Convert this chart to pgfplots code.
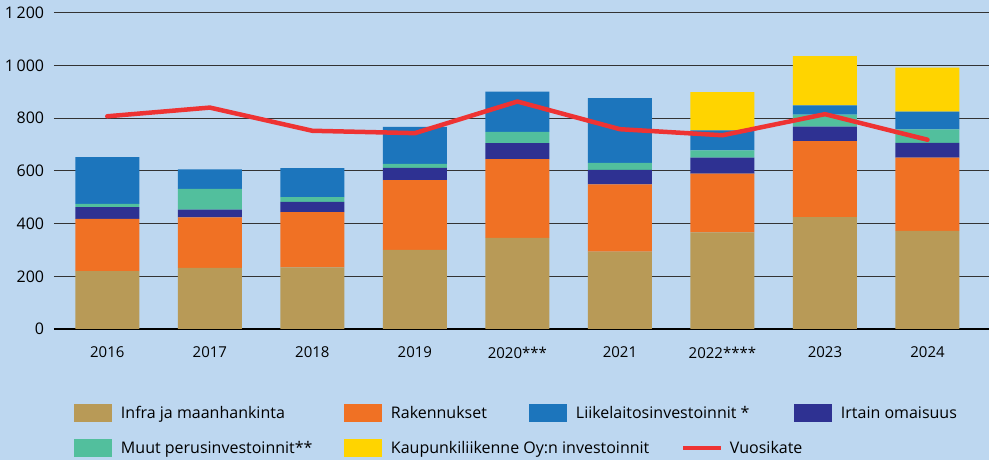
\documentclass[border=0pt]{standalone}
\usepackage{fontspec}
\setmainfont{Open Sans}
\usepackage{pgfplots}
\pgfplotsset{compat=1.18}
\definecolor{bg}{HTML}{BDD7F0}
\definecolor{cinfra}{HTML}{B89A57}
\definecolor{crak}{HTML}{F07124}
\definecolor{cliike}{HTML}{1C75BC}
\definecolor{cirtain}{HTML}{2E3192}
\definecolor{cmuut}{HTML}{52BF9D}
\definecolor{ckaup}{HTML}{FFD400}
\definecolor{cvuosi}{HTML}{EE3333}
\pgfplotsset{
  swatch/.style={legend image code/.code={\fill[##1, draw=none] (0pt,-9pt) rectangle (38pt,9pt);}},
  lineimg/.style={legend image code/.code={\fill[##1, draw=none] (0pt,-2.2pt) rectangle (38pt,2.2pt);}},
  legax/.style={at={(0pt,0pt)}, anchor=south west, width=989pt, height=460pt,
    scale only axis, hide axis, xmin=0, xmax=1, ymin=0, ymax=1,
    legend cell align=left,
    legend style={draw=none, fill=none, inner sep=0pt, outer sep=0pt,
      column sep=0pt, font=\fontsize{16}{19}\selectfont,
      nodes={inner sep=0pt}}},
}
\newcommand{\LE}[2]{\hspace*{9pt}\makebox[#1][l]{#2}}
\begin{document}
\begin{tikzpicture}[x=1pt,y=1pt]
\fill[bg] (0,0) rectangle (989,460);
\begin{axis}[
  at={(54pt,131pt)}, anchor=south west,
  width=935pt, height=316.3pt, scale only axis,
  xmin=-0.52, xmax=8.6, ymin=0, ymax=1200,
  ybar stacked, bar width=64pt,
  axis line style={draw=none}, major tick length=0pt,
  ymajorgrids, grid style={draw=black!80, line width=0.9pt},
  ytick={200,400,600,800,1000,1200},
  yticklabels={200,400,600,800,{1\,000},{1\,200}},
  extra y ticks={0}, extra y tick labels={0},
  extra y tick style={grid style={draw=black, line width=1.8pt}},
  xtick={0,1,2,3,4,5,6,7,8},
  xticklabels={2016,2017,2018,2019,2020***,2021,2022****,2023,2024},
  xticklabel style={font=\fontsize{15}{18}\selectfont, inner sep=0pt, anchor=north, yshift=-17.5pt},
  yticklabel style={font=\fontsize{16}{19}\selectfont, inner sep=0pt, xshift=-9.7pt},
  /pgf/number format/assume math mode=true,
]
\addplot[fill=cinfra, draw=none] coordinates {(0,220) (1,232) (2,234) (3,300) (4,346) (5,294) (6,367) (7,424) (8,372)};
\addplot[fill=crak, draw=none] coordinates {(0,198) (1,191) (2,209) (3,265) (4,298) (5,255) (6,222) (7,289) (8,278)};
\addplot[fill=cirtain, draw=none] coordinates {(0,44) (1,30) (2,39) (3,46) (4,61) (5,55) (6,61) (7,55) (8,56)};
\addplot[fill=cmuut, draw=none] coordinates {(0,13) (1,79) (2,18) (3,15) (4,43) (5,26) (6,28) (7,45) (8,51)};
\addplot[fill=cliike, draw=none] coordinates {(0,177) (1,74) (2,110) (3,141) (4,153) (5,246) (6,76) (7,35) (8,68)};
\addplot[fill=ckaup, draw=none] coordinates {(0,0) (1,0) (2,0) (3,0) (4,0) (5,0) (6,145) (7,187) (8,167)};
\end{axis}
\begin{axis}[
  at={(54pt,131pt)}, anchor=south west,
  width=935pt, height=316.3pt, scale only axis,
  xmin=-0.52, xmax=8.6, ymin=0, ymax=1200, hide axis,
]
\addplot[cvuosi, line width=4.5pt, line join=round, line cap=round] coordinates {(0,807) (1,840) (2,752) (3,743) (4,863) (5,758) (6,735) (7,815) (8,718)};
\end{axis}
\begin{axis}[legax, legend columns=4,
  legend style={at={(74/989,47/460)}, anchor=west}]
\addlegendimage{swatch, fill=cinfra}
\addlegendentry{\LE{223pt}{Infra ja maanhankinta}}
\addlegendimage{swatch, fill=crak}
\addlegendentry{\LE{138pt}{Rakennukset}}
\addlegendimage{swatch, fill=cliike}
\addlegendentry{\LE{218pt}{Liikelaitosinvestoinnit *}}
\addlegendimage{swatch, fill=cirtain}
\addlegendentry{\LE{120pt}{Irtain omaisuus}}
\end{axis}
\begin{axis}[legax, legend columns=3,
  legend style={at={(74/989,12/460)}, anchor=west}]
\addlegendimage{swatch, fill=cmuut}
\addlegendentry{\LE{223pt}{Muut perusinvestoinnit**}}
\addlegendimage{swatch, fill=ckaup}
\addlegendentry{\LE{292pt}{Kaupunkiliikenne Oy:n investoinnit}}
\addlegendimage{lineimg, fill=cvuosi}
\addlegendentry{\LE{80pt}{Vuosikate}}
\end{axis}
\pgfresetboundingbox
\useasboundingbox (0,0) rectangle (989,460);
\end{tikzpicture}
\end{document}
